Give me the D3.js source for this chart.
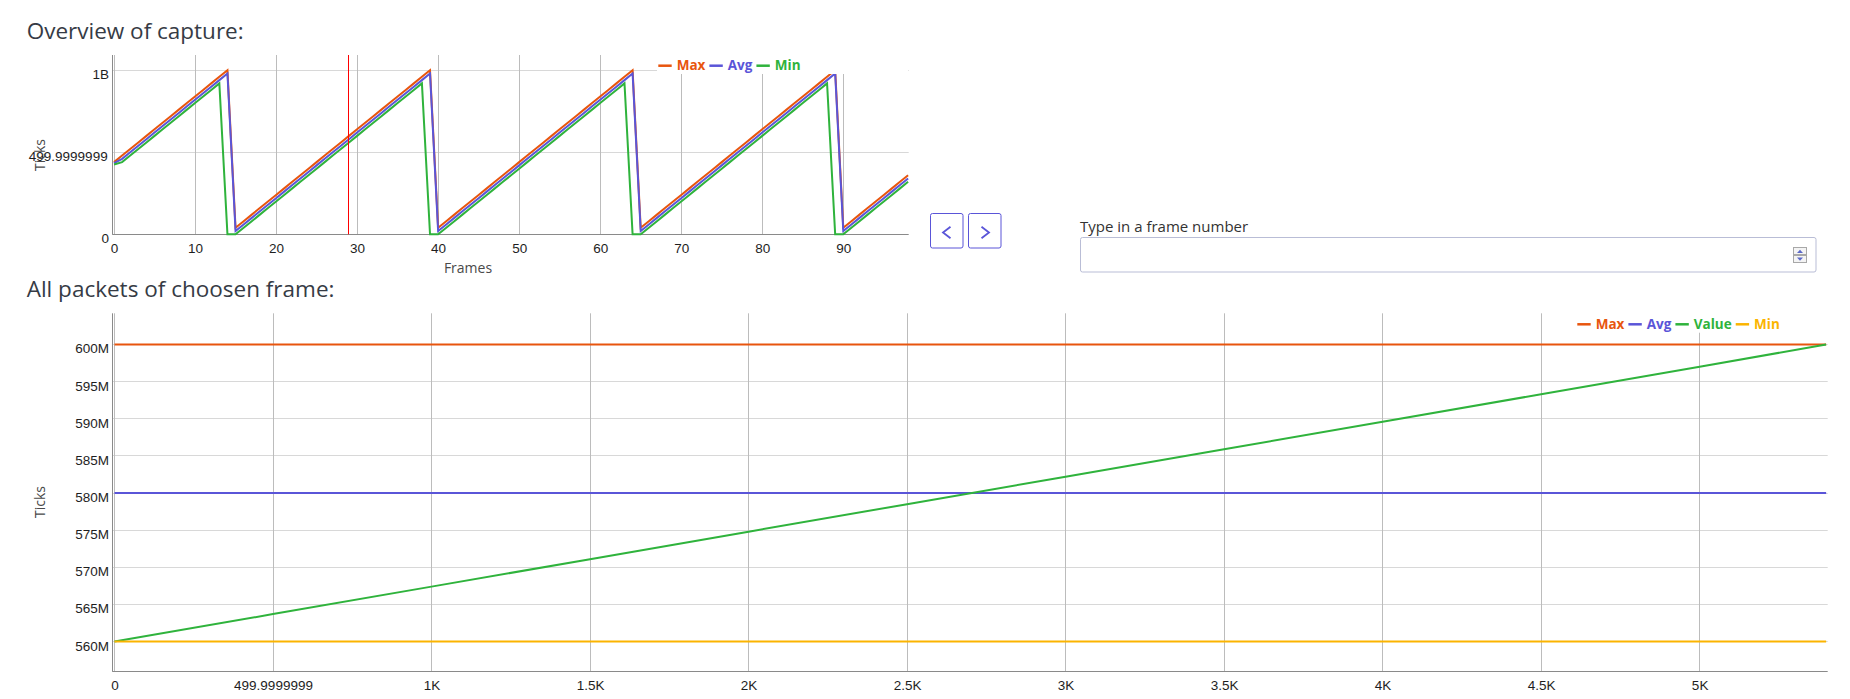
<!DOCTYPE html>
<html><head><meta charset="utf-8">
<script src="https://cdn.jsdelivr.net/npm/d3@7"></script>
<style>
html,body{margin:0;padding:0;background:#fff;overflow:hidden;}
svg{display:block;font-family:"Open Sans","Noto Sans",sans-serif;}
</style></head><body>
<svg id="c" width="1850" height="699"></svg>
<script>
// ---------- DATA ----------
// Overview: per-frame statistics (ticks, in millions)
const frames = [0,1,2,3,4,5,6,7,8,9,10,11,12,13,14,15,16,17,18,19,20,21,22,23,24,25,26,27,28,29,30,31,32,33,34,35,36,37,38,39,40,41,42,43,44,45,46,47,48,49,50,51,52,53,54,55,56,57,58,59,60,61,62,63,64,65,66,67,68,69,70,71,72,73,74,75,76,77,78,79,80,81,82,83,84,85,86,87,88,89,90,91,92,93,94,95,96,97,98];
const frameMaxM = [440,480,520,560,600,640,680,720,760,800,840,880,920,960,1000,
  40,80,120,160,200,240,280,320,360,400,440,480,520,560,600,640,680,720,760,800,840,880,920,960,1000,
  40,80,120,160,200,240,280,320,360,400,440,480,520,560,600,640,680,720,760,800,840,880,920,960,1000,
  40,80,120,160,200,240,280,320,360,400,440,480,520,560,600,640,680,720,760,800,840,880,920,960,1000,
  40,80,120,160,200,240,280,320,360];
const frameAvgM = [434,460,500,540,580,620,660,700,740,780,820,860,900,940,980,
  20,60,100,140,180,220,260,300,340,380,420,460,500,540,580,620,660,700,740,780,820,860,900,940,980,
  20,60,100,140,180,220,260,300,340,380,420,460,500,540,580,620,660,700,740,780,820,860,900,940,980,
  20,60,100,140,180,220,260,300,340,380,420,460,500,540,580,620,660,700,740,780,820,860,900,940,980,
  20,60,100,140,180,220,260,300,340];
const frameMinM = [426,440,480,520,560,600,640,680,720,760,800,840,880,920,0,
  0,40,80,120,160,200,240,280,320,360,400,440,480,520,560,600,640,680,720,760,800,840,880,920,0,
  0,40,80,120,160,200,240,280,320,360,400,440,480,520,560,600,640,680,720,760,800,840,880,920,0,
  0,40,80,120,160,200,240,280,320,360,400,440,480,520,560,600,640,680,720,760,800,840,880,920,0,
  0,40,80,120,160,200,240,280,320];
const selectedFrame = 29;
const ovXTicks = [0,10,20,30,40,50,60,70,80,90];
const ovYTicks = [0, 500e6, 1000e6];
const ovYLabels = ["0","499.9999999","1B"];

// Detail: packets of the chosen frame
const packetIdx   = [0,500,1000,1500,2000,2500,3000,3500,4000,4500,5000,5399];
const packetValM  = [560,563.7,567.4,571.1,574.8,578.5,582.2,585.9,589.6,593.3,597.0,600];
const packetSpan  = [0,5399];
const chosenMaxM = 600, chosenAvgM = 580, chosenMinM = 560;
const detXTicks  = [0,500,1000,1500,2000,2500,3000,3500,4000,4500,5000];
const detXLabels = ["0","499.9999999","1K","1.5K","2K","2.5K","3K","3.5K","4K","4.5K","5K"];
const detYTicks  = [560e6,565e6,570e6,575e6,580e6,585e6,590e6,595e6,600e6];

// ---------- STYLE ----------
const C = {max:"#e8550e", avg:"#5a55d8", min:"#2fb33c", value:"#2fb33c", minB:"#fbb400"};
const GRIDV = "#bcbcbc", GRIDH = "#d8d8d8", AXIS = "#8a8a8a";
const TITLE = "#363b45", TICK = "#1e1e1e", LAB = "#4a4a4a";
const TFS = "13.5px";

const svg = d3.select("#c");
const defs = svg.append("defs");

function crisp(v){ return Math.floor(v) + 0.5; }

// ================= OVERVIEW =================
svg.append("text").attr("x",26.7).attr("y",39).attr("font-size","22.5px")
  .attr("fill",TITLE).text("Overview of capture:");

const oT = 55, oB = 234.3, oL = 112.5, oR = 908.7;
const xO = d3.scaleLinear().domain([0,98]).range([114,908.1]);
const yO = d3.scaleLinear().domain([0,1093e6]).range([oB,oT]);
const gO = svg.append("g");

// grid
gO.append("g").selectAll("line").data(ovYTicks.slice(1)).join("line")
  .attr("x1",oL).attr("x2",oR).attr("y1",d=>crisp(yO(d))).attr("y2",d=>crisp(yO(d)))
  .attr("stroke",GRIDH);
gO.append("g").selectAll("line").data(ovXTicks).join("line")
  .attr("x1",d=>crisp(xO(d))).attr("x2",d=>crisp(xO(d))).attr("y1",oT).attr("y2",oB)
  .attr("stroke",GRIDV);

// axes lines
gO.append("line").attr("x1",oL).attr("x2",oL).attr("y1",oT).attr("y2",oB+0.5).attr("stroke",AXIS);
gO.append("line").attr("x1",oL).attr("x2",oR).attr("y1",crisp(oB)).attr("y2",crisp(oB)).attr("stroke",AXIS);

// x tick labels via d3 axis
const axXO = gO.append("g").attr("transform",`translate(0,${oB})`)
  .call(d3.axisBottom(xO).tickValues(ovXTicks).tickSize(0).tickFormat(d3.format("d")));
axXO.select(".domain").remove();
axXO.selectAll("text").attr("y",14).attr("dy","0.357em").attr("font-size",TFS)
  .attr("fill",TICK).attr("font-family",null);

// y tick labels via d3 axis
defs.append("clipPath").attr("id","clipYO").append("rect").attr("x",-200).attr("y",-20).attr("width",200.3).attr("height",40);
const axYO = gO.append("g").attr("transform","translate(109,0)")
  .call(d3.axisLeft(yO).tickValues(ovYTicks).tickSize(0).tickFormat((d,i)=>ovYLabels[i]));
axYO.select(".domain").remove();
axYO.selectAll("text").attr("x",0).attr("y",3.5).attr("dy","0.357em").attr("font-size",TFS)
  .attr("fill",TICK).attr("font-family",null)
  .each(function(d,i){ if(ovYLabels[i].length>5){ d3.select(this).attr("text-anchor","start").attr("x",-80.2); d3.select(this.parentNode).attr("clip-path","url(#clipYO)"); } });

// axis titles
gO.append("text").attr("transform","translate(39.7,155) rotate(-90)").attr("text-anchor","middle")
  .attr("dy","0.357em").attr("font-size","14px").attr("fill",LAB).text("Ticks");
gO.append("text").attr("x",468).attr("y",268).attr("text-anchor","middle")
  .attr("dy","0.357em").attr("font-size","14px").attr("fill",LAB).text("Frames");

// series
const ovSeries = [
  {name:"Max", color:C.max, vals:frameMaxM},
  {name:"Avg", color:C.avg, vals:frameAvgM},
  {name:"Min", color:C.min, vals:frameMinM}
];
const lineO = d3.line().x(d=>xO(d[0])).y(d=>yO(d[1]*1e6));
ovSeries.forEach(s=>{
  gO.append("path").datum(frames.map((f,i)=>[f,s.vals[i]]))
    .attr("d",lineO).attr("fill","none").attr("stroke",s.color).attr("stroke-width",2)
    .attr("stroke-linejoin","miter");
});

// cursor
gO.append("line").attr("x1",crisp(xO(selectedFrame))).attr("x2",crisp(xO(selectedFrame)))
  .attr("y1",oT).attr("y2",oB).attr("stroke","#ff0000").attr("stroke-width",1);

// legend
function legend(g, items, x0, yLine, yText, rect){
  g.append("rect").attr("x",rect[0]).attr("y",rect[1]).attr("width",rect[2]).attr("height",rect[3]).attr("fill","#fff");
  let x = x0;
  items.forEach(it=>{
    g.append("line").attr("x1",x).attr("x2",x+13.4).attr("y1",yLine).attr("y2",yLine)
      .attr("stroke",it.color).attr("stroke-width",2.5);
    const t = g.append("text").attr("x",x+18.4).attr("y",yText).attr("font-size","13.5px")
      .attr("font-weight","bold").attr("fill",it.color).text(it.name);
    x = x + 18.4 + t.node().getComputedTextLength() + 4;
  });
}
legend(gO, ovSeries, 658.3, 65.7, 70.3, [657,55,251,19]);

// ================= CONTROLS =================
const gC = svg.append("g");
const BTN = "#5a55d8";
[[930.5,"M950.5,226.7 L943,232.5 L950.5,238.3"],[968.5,"M981.5,226.7 L989,232.5 L981.5,238.3"]].forEach(b=>{
  gC.append("rect").attr("x",b[0]).attr("y",213.5).attr("width",32.5).attr("height",34.5).attr("rx",2)
    .attr("fill","#fff").attr("stroke",BTN);
  gC.append("path").attr("d",b[1]).attr("fill","none").attr("stroke",BTN).attr("stroke-width",1.8);
});
gC.append("text").attr("x",1080).attr("y",232.3).attr("font-size","15px").attr("fill","#333")
  .text("Type in a frame number");
gC.append("rect").attr("x",1080.5).attr("y",237.5).attr("width",735.5).attr("height",34.5).attr("rx",2)
  .attr("fill","#fff").attr("stroke","#b9bdd6");
gC.append("rect").attr("x",1793.5).attr("y",247.5).attr("width",13).attr("height",7).attr("fill","#f4f4f4").attr("stroke","#a8a8a8");
gC.append("rect").attr("x",1793.5).attr("y",255.5).attr("width",13).attr("height",7).attr("fill","#f4f4f4").attr("stroke","#a8a8a8");
gC.append("path").attr("d","M1797,253 L1803,253 L1800,249.8 Z").attr("fill","#5a68c8");
gC.append("path").attr("d","M1797,257.5 L1803,257.5 L1800,260.7 Z").attr("fill","#5a68c8");

// ================= DETAIL =================
svg.append("text").attr("x",26.7).attr("y",297.3).attr("font-size","22.5px")
  .attr("fill",TITLE).text("All packets of choosen frame:");

const dT = 313.3, dB = 671.3, dL = 112.5, dR = 1827.7;
const xD = d3.scaleLinear().domain([0,5404]).range([114.5,dR]);
const yD = d3.scaleLinear().domain([556e6,604.2e6]).range([dB,dT]);
const gD = svg.append("g");

gD.append("g").selectAll("line").data(detYTicks).join("line")
  .attr("x1",dL).attr("x2",dR).attr("y1",d=>crisp(yD(d))).attr("y2",d=>crisp(yD(d)))
  .attr("stroke",GRIDH);
gD.append("g").selectAll("line").data(detXTicks).join("line")
  .attr("x1",d=>crisp(xD(d))).attr("x2",d=>crisp(xD(d))).attr("y1",dT).attr("y2",dB)
  .attr("stroke",GRIDV);
gD.append("line").attr("x1",dL).attr("x2",dL).attr("y1",dT).attr("y2",dB+0.5).attr("stroke",AXIS);
gD.append("line").attr("x1",dL).attr("x2",dR).attr("y1",crisp(dB)).attr("y2",crisp(dB)).attr("stroke",AXIS);

defs.append("clipPath").attr("id","clipXD").append("rect").attr("x",-60).attr("y",-5).attr("width",99.4).attr("height",40);
const axXD = gD.append("g").attr("transform",`translate(0,${dB})`)
  .call(d3.axisBottom(xD).tickValues(detXTicks).tickSize(0).tickFormat((d,i)=>detXLabels[i]));
axXD.select(".domain").remove();
axXD.selectAll("text").attr("y",13.7).attr("dy","0.357em").attr("font-size",TFS)
  .attr("fill",TICK).attr("font-family",null)
  .each(function(d,i){ if(detXLabels[i].length>5){ d3.select(this.parentNode).attr("clip-path","url(#clipXD)"); } });

const axYD = gD.append("g").attr("transform","translate(109,0)")
  .call(d3.axisLeft(yD).tickValues(detYTicks).tickSize(0).tickFormat(d=>Math.round(d/1e6)+"M"));
axYD.select(".domain").remove();
axYD.selectAll("text").attr("x",0).attr("y",3.6).attr("dy","0.357em").attr("font-size",TFS)
  .attr("fill",TICK).attr("font-family",null);

gD.append("text").attr("transform","translate(39.7,502) rotate(-90)").attr("text-anchor","middle")
  .attr("dy","0.357em").attr("font-size","14px").attr("fill",LAB).text("Ticks");

const detSeries = [
  {name:"Max", color:C.max, pts:packetSpan.map(p=>[p,chosenMaxM])},
  {name:"Avg", color:C.avg, pts:packetSpan.map(p=>[p,chosenAvgM])},
  {name:"Value", color:C.value, pts:packetIdx.map((p,i)=>[p,packetValM[i]])},
  {name:"Min", color:C.minB, pts:packetSpan.map(p=>[p,chosenMinM])}
];
const lineD = d3.line().x(d=>xD(d[0])).y(d=>yD(d[1]*1e6));
detSeries.forEach(s=>{
  gD.append("path").datum(s.pts).attr("d",lineD).attr("fill","none")
    .attr("stroke",s.color).attr("stroke-width",2);
});
legend(gD, detSeries, 1577.3, 324.3, 329.3, [1572,313,256,19.7]);
</script>
</body></html>
